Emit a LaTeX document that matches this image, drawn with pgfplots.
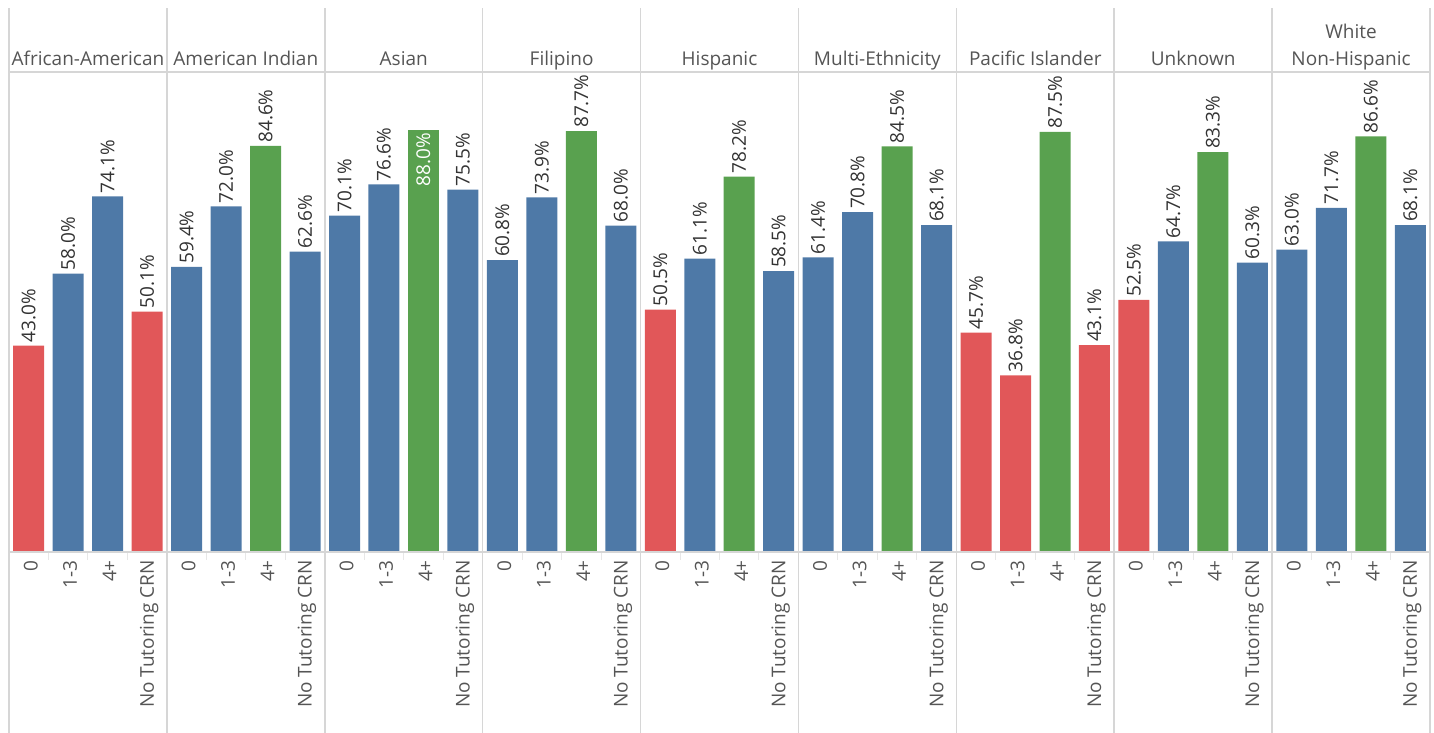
\documentclass[border=0pt]{standalone}
\usepackage{pgfplots}
\pgfplotsset{compat=1.18}
\usepackage{fontspec}
\setmainfont{Open Sans}

\definecolor{tred}{HTML}{E15759}
\definecolor{tblue}{HTML}{4E79A7}
\definecolor{tgreen}{HTML}{59A14F}
\definecolor{sepgray}{HTML}{D6D6D6}
\definecolor{headgray}{HTML}{555555}
\definecolor{valgray}{HTML}{333333}
\definecolor{tickgray}{HTML}{555555}

\newcommand{\lblfont}{\fontsize{19}{22}\selectfont}

\begin{document}
\begin{tikzpicture}[x=1pt,y=1pt]
\path[use as bounding box] (-9,-181) rectangle (1425,552);
\begin{axis}[
  at={(0,0)}, anchor=south west,
  scale only axis, width=1421pt, height=480pt,
  xmin=-0.5, xmax=35.5, ymin=0, ymax=100,
  clip=false,
  hide y axis,
  axis line style={draw=none},
  xtick pos=left,
  xtick={0,...,35},
  xticklabels={0,1-3,4+,No Tutoring CRN,0,1-3,4+,No Tutoring CRN,0,1-3,4+,No Tutoring CRN,
               0,1-3,4+,No Tutoring CRN,0,1-3,4+,No Tutoring CRN,0,1-3,4+,No Tutoring CRN,
               0,1-3,4+,No Tutoring CRN,0,1-3,4+,No Tutoring CRN,0,1-3,4+,No Tutoring CRN},
  minor xtick={0.5,1.5,2.5,4.5,5.5,6.5,8.5,9.5,10.5,12.5,13.5,14.5,16.5,17.5,18.5,
               20.5,21.5,22.5,24.5,25.5,26.5,28.5,29.5,30.5,32.5,33.5,34.5},
  major tick length=0pt,
  minor tick length=8pt,
  tick align=outside,
  minor tick style={sepgray!60, line width=1pt},
  xticklabel style={xshift=2pt, yshift=-8pt, rotate=90, anchor=east, font=\lblfont, text=tickgray, inner sep=0pt},
  /pgf/number format/assume math mode=true,
  nodes near coords={\pgfmathprintnumber[fixed,fixed zerofill,precision=1]{\pgfplotspointmeta}\%},
  every node near coord/.append style={rotate=90, anchor=west, font=\lblfont, text=valgray, inner sep=3pt},
]
% low results
\addplot[ybar, bar width=31pt, bar shift=0pt, fill=tred, draw=none] coordinates {
  (0,43.0) (3,50.1) (16,50.5) (24,45.7) (25,36.8) (27,43.1) (28,52.5)};
% middle results
\addplot[ybar, bar width=31pt, bar shift=0pt, fill=tblue, draw=none] coordinates {
  (1,58.0) (2,74.1) (4,59.4) (5,72.0) (7,62.6) (8,70.1) (9,76.6) (11,75.5)
  (12,60.8) (13,73.9) (15,68.0) (17,61.1) (19,58.5) (20,61.4) (21,70.8) (23,68.1)
  (29,64.7) (31,60.3) (32,63.0) (33,71.7) (35,68.1)};
% high results
\addplot[ybar, bar width=31pt, bar shift=0pt, fill=tgreen, draw=none] coordinates {
  (6,84.6) (14,87.7) (18,78.2) (22,84.5) (26,87.5) (30,83.3) (34,86.6)};
% tallest bar: label set inside the bar
\addplot[ybar, bar width=31pt, bar shift=0pt, fill=tgreen, draw=none,
  every node near coord/.append style={anchor=east, text=white}] coordinates {(10,88.0)};

% panel frame
\draw[sepgray, line width=1.5pt] (axis cs:-0.5,100) -- (axis cs:35.5,100);
\draw[sepgray, line width=1.5pt] (axis cs:-0.5,0) -- (axis cs:35.5,0);
\pgfplotsinvokeforeach{-0.5,3.5,7.5,11.5,15.5,19.5,23.5,27.5,31.5,35.5}{
  \draw[sepgray, line width=1.5pt] (axis cs:#1,-37.71) -- (axis cs:#1,113.33);
}

% panel headers
\begin{scope}[every node/.style={anchor=base, font=\lblfont, text=headgray, inner sep=0pt}]
\node at (axis cs:1.5,101.25) {African-American};
\node at (axis cs:5.5,101.25) {American Indian};
\node at (axis cs:9.5,101.25) {Asian};
\node at (axis cs:13.5,101.25) {Filipino};
\node at (axis cs:17.5,101.25) {Hispanic};
\node at (axis cs:21.5,101.25) {Multi-Ethnicity};
\node at (axis cs:25.5,101.25) {Pacific Islander};
\node at (axis cs:29.5,101.25) {Unknown};
\node at (axis cs:33.5,106.88) {White};
\node at (axis cs:33.5,101.25) {Non-Hispanic};
\end{scope}
\end{axis}
\end{tikzpicture}
\end{document}
